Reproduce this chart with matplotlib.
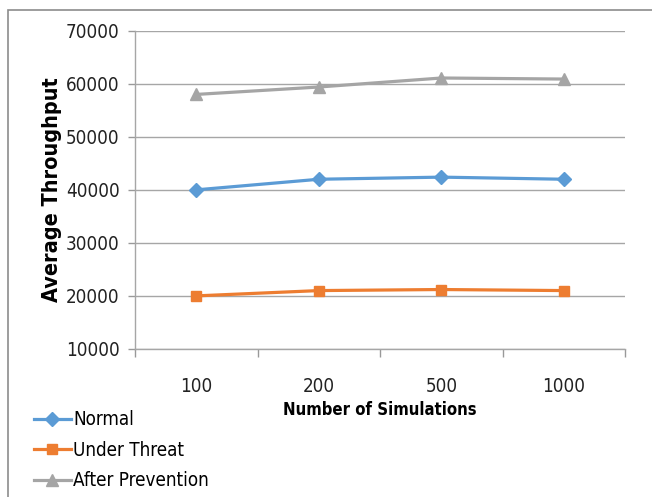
import matplotlib
matplotlib.use("Agg")
import matplotlib.pyplot as plt
from matplotlib.patches import Rectangle
import numpy as np

plt.rcParams['font.family'] = ['DejaVu Sans']
plt.rcParams['font.stretch'] = 'condensed'

simulations = ["100", "200", "500", "1000"]
normal = [40000, 42000, 42400, 42000]
under_threat = [20000, 21000, 21200, 21000]
after_prevention = [58000, 59400, 61100, 60900]

fig = plt.figure(figsize=(6.52, 4.97), dpi=100)
ax = fig.add_axes([0.207, 0.298, 0.752, 0.640])

x = np.arange(len(simulations))
ax.plot(x, normal, color="#5B9BD5", lw=2.3, marker="D", ms=7, label="Normal")
ax.plot(x, under_threat, color="#ED7D31", lw=2.3, marker="s", ms=7, label="Under Threat")
ax.plot(x, after_prevention, color="#A5A5A5", lw=2.3, marker="^", ms=8, label="After Prevention")

ax.set_xlim(-0.5, len(simulations) - 0.5)
ax.set_ylim(10000, 70000)
ax.set_yticks(np.arange(10000, 70001, 10000))
ax.set_xticks(x)
ax.set_xticklabels(simulations)
ax.set_xticks(np.arange(-0.5, len(simulations)), minor=True)
ax.tick_params(axis="x", which="major", length=0, pad=20, labelsize=13.5, colors="#222222")
ax.tick_params(axis="x", which="minor", length=6, color="#999999", width=1)
ax.tick_params(axis="y", length=5, width=1, pad=6, labelsize=13.5, colors="#222222")
ax.tick_params(axis="y", color="#999999")

ax.grid(axis="y", color="#A6A6A6", lw=1)
ax.set_axisbelow(True)
for s in ["top", "right"]:
    ax.spines[s].set_visible(False)
for s in ["left", "bottom"]:
    ax.spines[s].set_color("#A6A6A6")
    ax.spines[s].set_linewidth(1)

ax.set_xlabel("Number of Simulations", fontsize=12, fontweight="bold", labelpad=4)
ax.set_ylabel("Average Throughput", fontsize=15.5, fontweight="bold", labelpad=3)

fig.legend(loc="upper left", bbox_to_anchor=(0.04, 0.19), frameon=False,
           fontsize=13.5, handlelength=2.0, handletextpad=0.1, labelspacing=0.62,
           borderaxespad=0)

fig.patches.append(Rectangle((0.012, -0.1), 1.1, 1.08, transform=fig.transFigure,
                             fill=False, edgecolor="#8C8C8C", lw=1.2))

fig.savefig("out.png", dpi=100)
